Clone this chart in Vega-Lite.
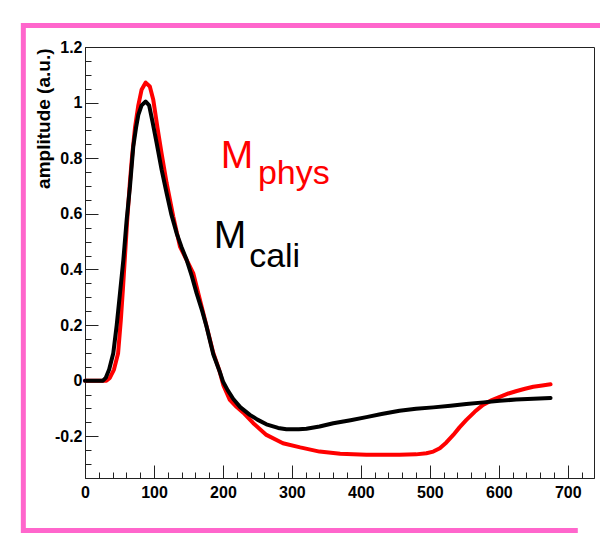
{
  "$schema": "https://vega.github.io/schema/vega-lite/v6.json",
  "width": 509,
  "height": 431,
  "autosize": {"type": "none"},
  "padding": {"left": 85, "top": 47, "right": 6, "bottom": 55},
  "background": "white",
  "config": {
    "view": {"stroke": "#222", "strokeWidth": 1},
    "axis": {"grid": false, "labelFont": "Liberation Sans", "labelFontWeight": "bold", "labelFontSize": 16, "labelColor": "black", "domainColor": "#222", "tickColor": "#222", "titleFont": "Liberation Sans"}
  },
  "datasets": {
    "curves": [
      {"series": "cali", "x": 0, "y": 0}, {"series": "cali", "x": 10, "y": 0}, {"series": "cali", "x": 20, "y": 0}, {"series": "cali", "x": 26, "y": 0},
      {"series": "cali", "x": 30, "y": 0.01}, {"series": "cali", "x": 35, "y": 0.04}, {"series": "cali", "x": 41, "y": 0.099}, {"series": "cali", "x": 46, "y": 0.2},
      {"series": "cali", "x": 50.7, "y": 0.314}, {"series": "cali", "x": 55.6, "y": 0.434}, {"series": "cali", "x": 60.4, "y": 0.578}, {"series": "cali", "x": 65.2, "y": 0.698},
      {"series": "cali", "x": 70, "y": 0.842}, {"series": "cali", "x": 74, "y": 0.91}, {"series": "cali", "x": 77.3, "y": 0.956}, {"series": "cali", "x": 82, "y": 0.99},
      {"series": "cali", "x": 88, "y": 1.004}, {"series": "cali", "x": 93, "y": 0.99}, {"series": "cali", "x": 98, "y": 0.93}, {"series": "cali", "x": 103.9, "y": 0.854},
      {"series": "cali", "x": 111, "y": 0.76}, {"series": "cali", "x": 118.4, "y": 0.674}, {"series": "cali", "x": 125, "y": 0.6}, {"series": "cali", "x": 132.9, "y": 0.53},
      {"series": "cali", "x": 140, "y": 0.48}, {"series": "cali", "x": 147.4, "y": 0.434}, {"series": "cali", "x": 155, "y": 0.375}, {"series": "cali", "x": 161.9, "y": 0.314},
      {"series": "cali", "x": 170, "y": 0.25}, {"series": "cali", "x": 176.3, "y": 0.194}, {"series": "cali", "x": 186, "y": 0.095}, {"series": "cali", "x": 195.7, "y": 0.03},
      {"series": "cali", "x": 200.4, "y": -0.005}, {"series": "cali", "x": 207, "y": -0.035}, {"series": "cali", "x": 215, "y": -0.066}, {"series": "cali", "x": 225, "y": -0.095},
      {"series": "cali", "x": 239, "y": -0.123}, {"series": "cali", "x": 250, "y": -0.14}, {"series": "cali", "x": 263, "y": -0.157}, {"series": "cali", "x": 280, "y": -0.17},
      {"series": "cali", "x": 292, "y": -0.175}, {"series": "cali", "x": 310, "y": -0.175}, {"series": "cali", "x": 321, "y": -0.173}, {"series": "cali", "x": 340, "y": -0.165},
      {"series": "cali", "x": 360, "y": -0.153}, {"series": "cali", "x": 385, "y": -0.142}, {"series": "cali", "x": 408, "y": -0.131}, {"series": "cali", "x": 430, "y": -0.12},
      {"series": "cali", "x": 456, "y": -0.108}, {"series": "cali", "x": 480, "y": -0.101}, {"series": "cali", "x": 505, "y": -0.096}, {"series": "cali", "x": 530, "y": -0.09},
      {"series": "cali", "x": 553, "y": -0.084}, {"series": "cali", "x": 578, "y": -0.078}, {"series": "cali", "x": 601, "y": -0.072}, {"series": "cali", "x": 625, "y": -0.068},
      {"series": "cali", "x": 650, "y": -0.065}, {"series": "cali", "x": 675, "y": -0.062},
      {"series": "phys", "x": 0, "y": 0}, {"series": "phys", "x": 10, "y": 0}, {"series": "phys", "x": 20, "y": 0}, {"series": "phys", "x": 31, "y": 0},
      {"series": "phys", "x": 36, "y": 0.01}, {"series": "phys", "x": 42, "y": 0.04}, {"series": "phys", "x": 48, "y": 0.099}, {"series": "phys", "x": 52, "y": 0.22},
      {"series": "phys", "x": 55, "y": 0.33}, {"series": "phys", "x": 58, "y": 0.45}, {"series": "phys", "x": 61, "y": 0.57}, {"series": "phys", "x": 65, "y": 0.71},
      {"series": "phys", "x": 68, "y": 0.8}, {"series": "phys", "x": 72.5, "y": 0.91}, {"series": "phys", "x": 77.3, "y": 0.99}, {"series": "phys", "x": 82, "y": 1.046},
      {"series": "phys", "x": 88, "y": 1.072}, {"series": "phys", "x": 94, "y": 1.058}, {"series": "phys", "x": 99, "y": 1.01}, {"series": "phys", "x": 104.8, "y": 0.914},
      {"series": "phys", "x": 111, "y": 0.818}, {"series": "phys", "x": 118.4, "y": 0.71}, {"series": "phys", "x": 128, "y": 0.59}, {"series": "phys", "x": 137.7, "y": 0.482},
      {"series": "phys", "x": 147.4, "y": 0.434}, {"series": "phys", "x": 157, "y": 0.386}, {"series": "phys", "x": 164.3, "y": 0.314}, {"series": "phys", "x": 174, "y": 0.218},
      {"series": "phys", "x": 186, "y": 0.1}, {"series": "phys", "x": 195, "y": 0.035}, {"series": "phys", "x": 200.4, "y": -0.015}, {"series": "phys", "x": 210, "y": -0.069},
      {"series": "phys", "x": 220, "y": -0.095}, {"series": "phys", "x": 229.5, "y": -0.115}, {"series": "phys", "x": 244, "y": -0.153}, {"series": "phys", "x": 263, "y": -0.195},
      {"series": "phys", "x": 287, "y": -0.225}, {"series": "phys", "x": 312, "y": -0.24}, {"series": "phys", "x": 340, "y": -0.255}, {"series": "phys", "x": 370, "y": -0.263},
      {"series": "phys", "x": 408, "y": -0.266}, {"series": "phys", "x": 456, "y": -0.266}, {"series": "phys", "x": 480, "y": -0.265}, {"series": "phys", "x": 495, "y": -0.261},
      {"series": "phys", "x": 505, "y": -0.255}, {"series": "phys", "x": 514.5, "y": -0.243}, {"series": "phys", "x": 524, "y": -0.222}, {"series": "phys", "x": 534, "y": -0.195},
      {"series": "phys", "x": 543, "y": -0.168}, {"series": "phys", "x": 553, "y": -0.141}, {"series": "phys", "x": 565, "y": -0.112}, {"series": "phys", "x": 577, "y": -0.087},
      {"series": "phys", "x": 590, "y": -0.07}, {"series": "phys", "x": 601.5, "y": -0.058}, {"series": "phys", "x": 614, "y": -0.046}, {"series": "phys", "x": 626, "y": -0.037},
      {"series": "phys", "x": 638, "y": -0.029}, {"series": "phys", "x": 650, "y": -0.022}, {"series": "phys", "x": 663, "y": -0.017}, {"series": "phys", "x": 675, "y": -0.013}
    ],
    "labels": [
      {"text": "M", "role": "main", "color": "#ff0000", "x": 197, "y": 0.764},
      {"text": "phys", "role": "sub", "color": "#ff0000", "x": 250.7, "y": 0.708},
      {"text": "M", "role": "main", "color": "#000000", "x": 186.5, "y": 0.476},
      {"text": "cali", "role": "sub", "color": "#000000", "x": 238, "y": 0.41}
    ]
  },
  "resolve": {"axis": {"x": "independent", "y": "independent"}},
  "layer": [
    {
      "data": {"name": "curves"},
      "transform": [{"filter": "datum.series === 'phys'"}],
      "mark": {"type": "line", "color": "#ff0000", "strokeWidth": 4, "strokeCap": "round", "strokeJoin": "round"},
      "encoding": {
        "x": {"field": "x", "type": "quantitative", "scale": {"domain": [0, 738], "nice": false, "zero": false},
          "axis": {"orient": "bottom", "values": [0, 100, 200, 300, 400, 500, 600, 700], "tickSize": -13, "tickWidth": 1, "labelPadding": 19, "labelFlush": false, "labelOverlap": false, "labelExpr": "'' + datum.value", "title": null}},
        "y": {"field": "y", "type": "quantitative", "scale": {"domain": [-0.35, 1.2], "nice": false, "zero": false},
          "axis": {"orient": "left", "values": [-0.2, 0, 0.2, 0.4, 0.6, 0.8, 1, 1.2], "tickSize": -13, "tickWidth": 1, "labelPadding": 16, "labelFlush": false, "labelOverlap": false, "labelExpr": "'' + datum.value",
            "title": "amplitude (a.u.)", "titleFontSize": 19, "titleFontWeight": "bold", "titleColor": "black", "titleAngle": -90, "titleAlign": "right", "titleBaseline": "alphabetic", "titleX": -36, "titleY": 1}}
      }
    },
    {
      "data": {"name": "curves"},
      "transform": [{"filter": "datum.series === 'cali'"}],
      "mark": {"type": "line", "color": "#000000", "strokeWidth": 4, "strokeCap": "round", "strokeJoin": "round"},
      "encoding": {
        "x": {"field": "x", "type": "quantitative", "scale": {"domain": [0, 738], "nice": false, "zero": false},
          "axis": {"orient": "bottom", "values": [20, 40, 60, 80, 120, 140, 160, 180, 220, 240, 260, 280, 320, 340, 360, 380, 420, 440, 460, 480, 520, 540, 560, 580, 620, 640, 660, 680, 720], "tickSize": -6, "tickWidth": 1, "labels": false, "domain": false, "title": null}},
        "y": {"field": "y", "type": "quantitative", "scale": {"domain": [-0.35, 1.2], "nice": false, "zero": false},
          "axis": {"orient": "left", "values": [-0.3, -0.25, -0.15, -0.1, -0.05, 0.05, 0.1, 0.15, 0.25, 0.3, 0.35, 0.45, 0.5, 0.55, 0.65, 0.7, 0.75, 0.85, 0.9, 0.95, 1.05, 1.1, 1.15], "tickSize": -6, "tickWidth": 1, "labels": false, "domain": false, "title": null}}
      }
    },
    {
      "data": {"name": "labels"},
      "transform": [{"filter": "datum.role === 'main'"}],
      "mark": {"type": "text", "font": "Liberation Sans", "fontSize": 39, "align": "left", "baseline": "alphabetic"},
      "encoding": {
        "x": {"field": "x", "type": "quantitative", "axis": null},
        "y": {"field": "y", "type": "quantitative", "axis": null},
        "text": {"field": "text"},
        "color": {"field": "color", "type": "nominal", "scale": null}
      }
    },
    {
      "data": {"name": "labels"},
      "transform": [{"filter": "datum.role === 'sub'"}],
      "mark": {"type": "text", "font": "Liberation Sans", "fontSize": 34, "align": "left", "baseline": "alphabetic"},
      "encoding": {
        "x": {"field": "x", "type": "quantitative", "axis": null},
        "y": {"field": "y", "type": "quantitative", "axis": null},
        "text": {"field": "text"},
        "color": {"field": "color", "type": "nominal", "scale": null}
      }
    },
    {
      "data": {"values": [{}]},
      "mark": {"type": "rule", "color": "#ff66cc", "strokeWidth": 5, "clip": false},
      "encoding": {
        "x": {"datum": -92, "type": "quantitative", "axis": null},
        "x2": {"datum": 750},
        "y": {"datum": 1.2777, "type": "quantitative", "axis": null}
      }
    },
    {
      "data": {"values": [{}]},
      "mark": {"type": "rule", "color": "#ff66cc", "strokeWidth": 5, "clip": false},
      "encoding": {
        "x": {"datum": -89.4, "type": "quantitative", "axis": null},
        "y": {"datum": 1.286, "type": "quantitative", "axis": null},
        "y2": {"datum": -0.55}
      }
    },
    {
      "data": {"values": [{}]},
      "mark": {"type": "rule", "color": "#ff66cc", "strokeWidth": 5, "clip": false},
      "encoding": {
        "x": {"datum": -92, "type": "quantitative", "axis": null},
        "x2": {"datum": 714.5},
        "y": {"datum": -0.5388, "type": "quantitative", "axis": null}
      }
    }
  ]
}
